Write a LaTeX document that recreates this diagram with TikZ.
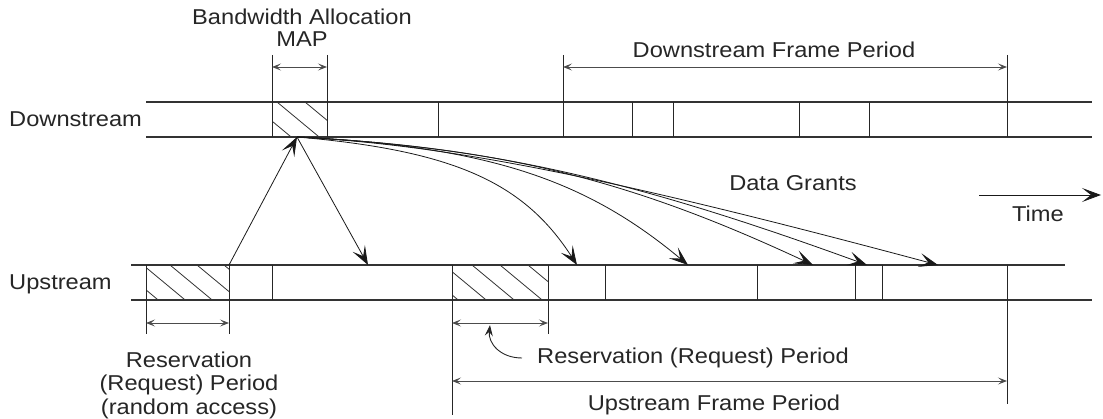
\documentclass[tikz,border=0pt]{standalone}
\usepackage{fontspec}
\setmainfont{Liberation Sans}
\usepackage{graphicx}
\usetikzlibrary{arrows.meta}
\newcommand{\wt}[1]{\scalebox{1.1}[1]{#1}}
\begin{document}
\begin{tikzpicture}[x=1pt,y=-1pt,
  lane/.style={line width=1.3pt, draw=black!80},
  sep/.style={line width=1pt, draw=black!85},
  hatch/.style={line width=0.8pt, draw=black!80},
  dimline/.style={line width=0.9pt, draw=black!70,
    {Stealth[length=9pt,width=7pt,inset=4pt]}-{Stealth[length=9pt,width=7pt,inset=4pt]}},
  grant/.style={line width=0.8pt, draw=black!90, -{Stealth[length=19pt,width=14pt,inset=9pt]}},
  lbl/.style={font=\fontsize{21.5}{23}\selectfont, inner sep=0pt, anchor=base, text=black!85}
]
\useasboundingbox (0,0) rectangle (1103,419);

% ---------- lanes ----------
\draw[lane] (146,102) -- (1092,102);
\draw[lane] (146,137) -- (1092,137);
\draw[lane] (131,265) -- (1065,265);
\draw[lane] (131,300) -- (1092,300);

% ---------- hatching ----------
\begin{scope}
  \clip (272,102) rectangle (327,137);
  \foreach \c in {249,277,305} \draw[hatch] (\c,102) -- ++(60,49.8);
\end{scope}
\begin{scope}
  \clip (146,265) rectangle (229,300);
  \foreach \c in {116,143,170,197,224} \draw[hatch] (\c,265) -- ++(60,49.8);
\end{scope}
\begin{scope}
  \clip (452,265) rectangle (548,300);
  \foreach \c in {416,444,472,500,528} \draw[hatch] (\c,265) -- ++(60,49.8);
\end{scope}

% ---------- downstream separators ----------
\draw[sep] (272,55) -- (272,137);
\draw[sep] (327,55) -- (327,137);
\draw[sep] (438,102) -- (438,137);
\draw[sep] (563,55) -- (563,137);
\foreach \x in {632,673,799,869} \draw[sep] (\x,102) -- (\x,137);
\draw[sep] (1007,55) -- (1007,137);

% ---------- upstream separators ----------
\draw[sep] (146,265) -- (146,334);
\draw[sep] (229,265) -- (229,334);
\draw[sep] (272,265) -- (272,300);
\draw[sep] (452,265) -- (452,415);
\draw[sep] (548,265) -- (548,334);
\foreach \x in {605,757,855,882} \draw[sep] (\x,265) -- (\x,300);
\draw[sep] (1007,265) -- (1007,404);

% ---------- dimension markers ----------
\coordinate (mapL) at (272,67);
\coordinate (mapR) at (327,67);
\coordinate (dfL) at (563,67);
\coordinate (dfR) at (1007,67);
\coordinate (r1L) at (146,323);
\coordinate (r1R) at (229,323);
\coordinate (r2L) at (452,323);
\coordinate (r2R) at (548,323);
\coordinate (ufL) at (452,381);
\coordinate (ufR) at (1007,381);
\draw[dimline] (mapL) -- (mapR);
\draw[dimline] (dfL) -- (dfR);
\draw[dimline] (r1L) -- (r1R);
\draw[dimline] (r2L) -- (r2R);
\draw[dimline] (ufL) -- (ufR);

% ---------- grants ----------
\coordinate (map) at (297,137);
\coordinate (req) at (229,265);
\coordinate (g0) at (368,265);
\coordinate (g1) at (577,265);
\coordinate (g2) at (688,265);
\coordinate (g3) at (813,265);
\coordinate (g4) at (867,265);
\coordinate (g5) at (938,265);
\draw[grant] (req) -- (map);
\draw[grant] (map) -- (g0);
\draw[grant] (map) .. controls (454,150.5) and (524,182.5) .. (g1);
\draw[grant] (map) .. controls (487,146.5) and (585,179) .. (g2);
\draw[grant] (map) .. controls (501,147.5) and (630,179.5) .. (g3);
\draw[grant] (map) .. controls (488,146.5) and (631,179) .. (g4);
\draw[grant] (map) .. controls (449,145) and (609,177) .. (g5);

% ---------- time arrow ----------
\coordinate (t0) at (979,195);
\coordinate (t1) at (1101,195);
\draw[grant] (t0) -- (t1);

% ---------- labels ----------
\node[lbl] (bw1) at (302,25) {\wt{Bandwidth Allocation}};
\node[lbl] (bw2) at (302,47) {\wt{MAP}};
\node[lbl] (dfp) at (774,58) {\wt{Downstream Frame Period}};
\node[lbl, anchor=base west] (ds) at (9,127) {\wt{Downstream}};
\node[lbl, anchor=base west] (us) at (9,290) {\wt{Upstream}};
\node[lbl] (dg) at (793,191) {\wt{Data Grants}};
\node[lbl] (tm) at (1038,222) {\wt{Time}};
\node[lbl] (rr1) at (189,368) {\wt{Reservation}};
\node[lbl] (rr2) at (189,391) {\wt{(Request) Period}};
\node[lbl] (rr3) at (189,414) {\wt{(random access)}};
\node[lbl, anchor=base west] (rrp) at (537,364) {\wt{Reservation (Request) Period}};
\node[lbl] (ufp) at (714,410) {\wt{Upstream Frame Period}};

% curved pointer to reservation period
\coordinate (cp0) at (522,358);
\coordinate (cp1) at (490,325);
\draw[line width=0.9pt, draw=black!85, -{Stealth[length=11pt,width=8pt,inset=4pt]}]
  (cp0) .. controls (500,358) and (488,343) .. (cp1);
\end{tikzpicture}
\end{document}
